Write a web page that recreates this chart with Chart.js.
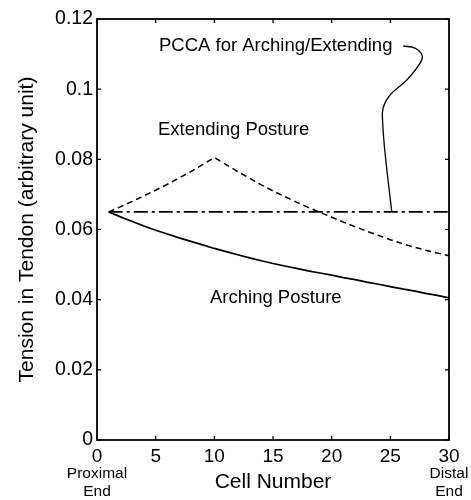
<!DOCTYPE html>
<html>
<head>
<meta charset="utf-8">
<script src="https://cdn.jsdelivr.net/npm/chart.js@4"></script>
<style>
  html, body { margin: 0; padding: 0; background: #fff; }
  #wrap { width: 471px; height: 500px; }
</style>
</head>
<body>
<div id="wrap"><canvas id="tensionChart" width="471" height="500"></canvas></div>
<script>
// cell index along the tendon
const cells = [1, 2, 3, 4, 5, 6, 7, 8, 9, 10, 11, 12, 13, 14, 15,
               16, 17, 18, 19, 20, 21, 22, 23, 24, 25, 26, 27, 28, 29, 30];

const arching = [0.0650, 0.0636, 0.0623, 0.0610, 0.0598, 0.0587, 0.0576, 0.0566, 0.0556, 0.0546,
                 0.0537, 0.0528, 0.0519, 0.0511, 0.0503, 0.0496, 0.0489, 0.0482, 0.0476, 0.0470,
                 0.0463, 0.0457, 0.0450, 0.0444, 0.0437, 0.0431, 0.0425, 0.0418, 0.0412, 0.0405];

const extending = [0.0650, 0.0665, 0.0680, 0.0696, 0.0712, 0.0729, 0.0747, 0.0765, 0.0785, 0.0805,
                   0.0785, 0.0765, 0.0746, 0.0727, 0.0710, 0.0694, 0.0678, 0.0663, 0.0649, 0.0635,
                   0.0621, 0.0608, 0.0595, 0.0583, 0.0571, 0.0560, 0.0550, 0.0541, 0.0533, 0.0525];

const pcca = [0.065, 0.065, 0.065, 0.065, 0.065, 0.065, 0.065, 0.065, 0.065, 0.065,
              0.065, 0.065, 0.065, 0.065, 0.065, 0.065, 0.065, 0.065, 0.065, 0.065,
              0.065, 0.065, 0.065, 0.065, 0.065, 0.065, 0.065, 0.065, 0.065, 0.065];

// leader line from the PCCA label down to its curve
const calloutX = [26.1, 27.1, 27.7, 27.55, 26.4, 24.97, 24.38, 24.35, 24.55, 25.12];
const calloutY = [0.1123, 0.1117, 0.1097, 0.1075, 0.1026, 0.0983, 0.0946, 0.0903, 0.0818, 0.0651];

const xTicks = [0, 5, 10, 15, 20, 25, 30];
const yTicks = [0, 0.02, 0.04, 0.06, 0.08, 0.1, 0.12];
const yTickLabels = ['0', '0.02', '0.04', '0.06', '0.08', '0.1', '0.12'];

const FONT = '"Liberation Sans", Arial, Helvetica, sans-serif';

const toPoints = (xs, ys) => xs.map((x, i) => ({ x: x, y: ys[i] }));

// box frame, inward ticks and the free text labels
const framePlugin = {
  id: 'frame',
  afterDraw(chart) {
    const { ctx, chartArea: a, scales } = chart;
    const tl = 4;
    ctx.save();
    ctx.strokeStyle = '#000';
    ctx.lineWidth = 1.8;
    ctx.strokeRect(a.left, a.top, a.right - a.left, a.bottom - a.top);

    ctx.lineWidth = 1.2;
    ctx.beginPath();
    xTicks.forEach(v => {
      const px = scales.x.getPixelForValue(v);
      ctx.moveTo(px, a.bottom); ctx.lineTo(px, a.bottom - tl);
      ctx.moveTo(px, a.top); ctx.lineTo(px, a.top + tl);
    });
    yTicks.forEach(v => {
      const py = scales.y.getPixelForValue(v);
      ctx.moveTo(a.left, py); ctx.lineTo(a.left + tl, py);
      ctx.moveTo(a.right, py); ctx.lineTo(a.right - tl, py);
    });
    ctx.stroke();

    ctx.fillStyle = '#000';
    ctx.textBaseline = 'middle';
    ctx.textAlign = 'left';
    ctx.font = '18.5px ' + FONT;
    ctx.fillText('PCCA for Arching/Extending', 159, 46);
    ctx.fillText('Extending Posture', 158, 130);
    ctx.fillText('Arching Posture', 210, 298);

    ctx.textAlign = 'center';
    ctx.font = '15.5px ' + FONT;
    const px0 = scales.x.getPixelForValue(0);
    const px30 = scales.x.getPixelForValue(30);
    ctx.fillText('Proximal', px0, 474);
    ctx.fillText('End', px0, 492);
    ctx.fillText('Distal', px30, 474);
    ctx.fillText('End', px30, 492);
    ctx.restore();
  }
};

new Chart(document.getElementById('tensionChart'), {
  type: 'line',
  data: {
    datasets: [
      {
        label: 'Arching Posture',
        data: toPoints(cells, arching),
        borderColor: '#000',
        borderWidth: 1.7,
        pointRadius: 0,
        tension: 0
      },
      {
        label: 'Extending Posture',
        data: toPoints(cells, extending),
        borderColor: '#000',
        borderWidth: 1.5,
        borderDash: [6, 4],
        pointRadius: 0,
        tension: 0
      },
      {
        label: 'PCCA for Arching/Extending',
        data: toPoints(cells, pcca),
        borderColor: '#000',
        borderWidth: 1.7,
        borderDash: [14, 4, 3, 4],
        pointRadius: 0,
        tension: 0
      },
      {
        label: 'callout',
        data: toPoints(calloutX, calloutY),
        borderColor: '#000',
        borderWidth: 1.3,
        pointRadius: 0,
        tension: 0.4
      }
    ]
  },
  options: {
    responsive: false,
    animation: false,
    layout: { padding: { top: 19, right: 22, left: 0, bottom: 0 } },
    plugins: {
      legend: { display: false },
      tooltip: { enabled: false }
    },
    scales: {
      x: {
        type: 'linear',
        min: 0,
        max: 30,
        afterBuildTicks: s => { s.ticks = xTicks.map(v => ({ value: v })); },
        afterFit: s => { s.height = 60; },
        grid: { display: false, drawTicks: false },
        border: { display: false },
        ticks: {
          color: '#000',
          padding: 5,
          maxRotation: 0,
          font: { family: FONT, size: 19 }
        },
        title: {
          display: true,
          text: 'Cell Number',
          color: '#000',
          font: { family: FONT, size: 21 },
          padding: { top: 0, bottom: 5 }
        }
      },
      y: {
        min: 0,
        max: 0.12,
        afterBuildTicks: s => { s.ticks = yTicks.map(v => ({ value: v })); },
        afterFit: s => { s.width = 97; },
        grid: { display: false, drawTicks: false },
        border: { display: false },
        ticks: {
          color: '#000',
          padding: 4,
          font: { family: FONT, size: 19.5 },
          callback: (v, i) => yTickLabels[i]
        },
        title: {
          display: true,
          text: 'Tension in Tendon (arbitrary unit)',
          color: '#000',
          font: { family: FONT, size: 21 },
          padding: { top: 15, bottom: 0 }
        }
      }
    }
  },
  plugins: [framePlugin]
});
</script>
</body>
</html>
